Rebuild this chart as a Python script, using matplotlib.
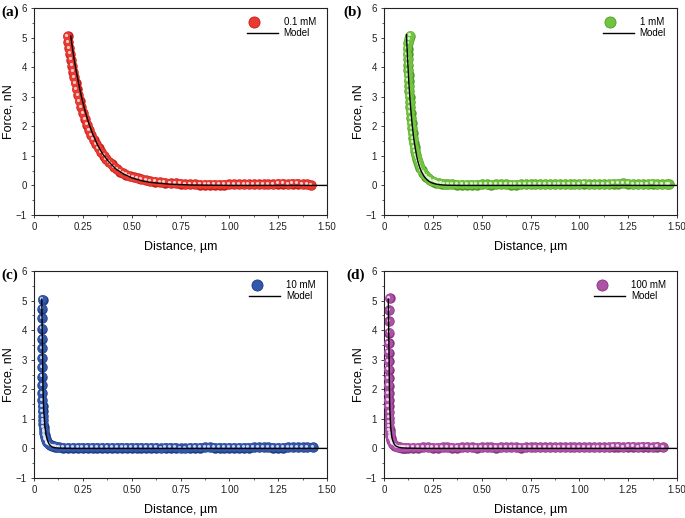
import matplotlib
matplotlib.use("Agg")
import matplotlib.pyplot as plt
from matplotlib.lines import Line2D
from matplotlib.legend_handler import HandlerTuple
from matplotlib.transforms import offset_copy
from matplotlib.ticker import MultipleLocator, FixedLocator

plt.rcParams['font.family'] = ['Liberation Sans', 'DejaVu Sans']

# ---- data (distance in um, force in nN) ----
labels = ['0.1 mM', '1 mM', '10 mM', '100 mM']
panel_tags = ['(a)', '(b)', '(c)', '(d)']
colors = ['#ea3a31', '#72c440', '#3358ab', '#ad52a6']
darks = ['#c41d16', '#4f9a24', '#1f3b85', '#86357f']

# (a) 0.1 mM
a_curve = [(0.173, 5.05), (0.176, 4.85), (0.181, 4.65), (0.186, 4.45), (0.191, 4.25),
           (0.196, 4.05), (0.201, 3.85), (0.207, 3.65), (0.213, 3.45), (0.219, 3.25),
           (0.226, 3.05), (0.234, 2.85), (0.242, 2.65), (0.251, 2.45), (0.261, 2.25),
           (0.272, 2.05), (0.283, 1.87), (0.294, 1.70), (0.306, 1.54), (0.318, 1.39),
           (0.331, 1.25), (0.344, 1.12), (0.358, 1.00), (0.371, 0.89), (0.384, 0.79),
           (0.397, 0.71), (0.410, 0.62), (0.425, 0.54), (0.440, 0.47), (0.456, 0.41),
           (0.473, 0.36), (0.490, 0.32), (0.510, 0.28), (0.530, 0.24), (0.550, 0.21),
           (0.573, 0.18), (0.596, 0.15), (0.620, 0.13), (0.645, 0.11), (0.670, 0.09),
           (0.700, 0.08), (0.725, 0.07)]
a_flat_x = [0.75, 0.775, 0.80, 0.825, 0.85, 0.875, 0.90, 0.925, 0.95, 0.975,
            1.00, 1.025, 1.05, 1.075, 1.10, 1.125, 1.15, 1.175, 1.20, 1.225,
            1.25, 1.275, 1.30, 1.325, 1.35, 1.375, 1.40, 1.42]
a_flat_f = [0.06, 0.05, 0.04, 0.04, 0.03, 0.03, 0.02, 0.02, 0.03, 0.03,
            0.04, 0.04, 0.05, 0.04, 0.04, 0.05, 0.04, 0.04, 0.05, 0.05,
            0.06, 0.06, 0.05, 0.06, 0.06, 0.05, 0.05, 0.01]
a_model = [(0.188, 5.05), (0.195, 4.72), (0.205, 4.28), (0.215, 3.90), (0.230, 3.39),
           (0.245, 2.94), (0.260, 2.55), (0.280, 2.11), (0.300, 1.75), (0.325, 1.37),
           (0.350, 1.08), (0.380, 0.82), (0.420, 0.55), (0.460, 0.38), (0.500, 0.26),
           (0.550, 0.16), (0.600, 0.10), (0.700, 0.04), (0.800, 0.015), (1.000, 0.0),
           (1.500, 0.0)]

# (b) 1 mM
b_curve = [(0.135, 5.07), (0.128, 4.95), (0.124, 4.80), (0.122, 4.62), (0.122, 4.44),
           (0.123, 4.26), (0.124, 4.08), (0.125, 3.90), (0.126, 3.72), (0.127, 3.54),
           (0.128, 3.36), (0.129, 3.18), (0.131, 3.00), (0.133, 2.82), (0.135, 2.64),
           (0.137, 2.46), (0.139, 2.28), (0.141, 2.10), (0.144, 1.93), (0.147, 1.76),
           (0.150, 1.60), (0.153, 1.45), (0.157, 1.30), (0.161, 1.16), (0.165, 1.03),
           (0.170, 0.91), (0.175, 0.80), (0.180, 0.70), (0.186, 0.60), (0.193, 0.51),
           (0.200, 0.43), (0.208, 0.36), (0.216, 0.30), (0.225, 0.24), (0.235, 0.19),
           (0.245, 0.15), (0.256, 0.12), (0.268, 0.09), (0.280, 0.07), (0.295, 0.06),
           (0.310, 0.05), (0.330, 0.04)]
b_flat_x = [0.35, 0.375, 0.40, 0.425, 0.45, 0.475, 0.50, 0.525, 0.55, 0.575,
            0.60, 0.625, 0.65, 0.675, 0.70, 0.725, 0.75, 0.775, 0.80, 0.825,
            0.85, 0.875, 0.90, 0.925, 0.95, 0.975, 1.00, 1.025, 1.05, 1.075,
            1.10, 1.125, 1.15, 1.175, 1.20, 1.225, 1.25, 1.275, 1.30, 1.325,
            1.35, 1.375, 1.40, 1.425, 1.45, 1.46]
b_flat_f = [0.04, 0.03, 0.02, 0.02, 0.03, 0.03, 0.04, 0.04, 0.03, 0.04,
            0.05, 0.04, 0.03, 0.03, 0.04, 0.04, 0.05, 0.05, 0.04, 0.04,
            0.04, 0.05, 0.05, 0.04, 0.04, 0.05, 0.05, 0.06, 0.05, 0.05,
            0.04, 0.04, 0.05, 0.06, 0.06, 0.07, 0.06, 0.05, 0.05, 0.04,
            0.05, 0.06, 0.05, 0.05, 0.05, 0.04]
b_model = [(0.115, 5.10), (0.119, 4.50), (0.123, 4.00), (0.127, 3.50), (0.132, 3.00),
           (0.138, 2.50), (0.145, 2.00), (0.152, 1.60), (0.159, 1.30), (0.167, 1.00),
           (0.174, 0.80), (0.183, 0.60), (0.193, 0.45), (0.203, 0.33), (0.213, 0.24),
           (0.224, 0.17), (0.235, 0.12), (0.248, 0.08), (0.263, 0.05), (0.279, 0.03),
           (0.300, 0.015), (0.330, 0.005), (0.400, 0.0), (1.500, 0.0)]

# (c) 10 mM
c_curve = [(0.044, 5.03), (0.043, 4.72), (0.042, 4.40), (0.042, 4.05), (0.041, 3.71),
           (0.041, 3.39), (0.041, 3.06), (0.041, 2.75), (0.041, 2.43), (0.042, 2.14),
           (0.042, 1.87), (0.043, 1.63), (0.044, 1.43), (0.045, 1.25), (0.046, 1.09),
           (0.047, 0.95), (0.048, 0.83), (0.050, 0.72), (0.051, 0.62), (0.053, 0.53),
           (0.055, 0.45), (0.057, 0.38), (0.060, 0.32), (0.063, 0.27), (0.066, 0.22),
           (0.070, 0.18), (0.075, 0.15), (0.080, 0.12), (0.086, 0.10), (0.093, 0.08),
           (0.100, 0.07), (0.110, 0.06), (0.120, 0.05), (0.130, 0.04)]
c_flat_x = [0.15, 0.175, 0.20, 0.225, 0.25, 0.275, 0.30, 0.325, 0.35, 0.375,
            0.40, 0.425, 0.45, 0.475, 0.50, 0.525, 0.55, 0.575, 0.60, 0.625,
            0.65, 0.675, 0.70, 0.725, 0.75, 0.775, 0.80, 0.825, 0.85, 0.875,
            0.90, 0.925, 0.95, 0.975, 1.00, 1.025, 1.05, 1.075, 1.10, 1.125,
            1.15, 1.175, 1.20, 1.225, 1.25, 1.275, 1.30, 1.325, 1.35, 1.375,
            1.40, 1.43]
c_flat_f = [0.03, 0.03, 0.02, 0.03, 0.02, 0.02, 0.03, 0.03, 0.02, 0.02,
            0.03, 0.03, 0.02, 0.02, 0.03, 0.03, 0.03, 0.02, 0.02, 0.02,
            0.01, 0.02, 0.02, 0.02, 0.01, 0.01, 0.02, 0.02, 0.03, 0.04,
            0.04, 0.03, 0.03, 0.02, 0.02, 0.02, 0.03, 0.03, 0.03, 0.04,
            0.04, 0.05, 0.04, 0.03, 0.03, 0.03, 0.04, 0.04, 0.05, 0.05,
            0.05, 0.04]
c_model = [(0.040, 5.05), (0.041, 4.50), (0.042, 4.00), (0.043, 3.50), (0.044, 3.00),
           (0.045, 2.50), (0.046, 2.00), (0.048, 1.60), (0.050, 1.30), (0.053, 1.00),
           (0.056, 0.75), (0.060, 0.55), (0.064, 0.40), (0.069, 0.27), (0.075, 0.17),
           (0.083, 0.10), (0.093, 0.05), (0.105, 0.025), (0.130, 0.01), (0.200, 0.0),
           (1.500, 0.0)]

# (d) 100 mM
d_curve = [(0.030, 5.08), (0.028, 4.68), (0.027, 4.30), (0.026, 3.92), (0.025, 3.56),
           (0.025, 3.24), (0.025, 2.94), (0.025, 2.66), (0.025, 2.38), (0.025, 2.12),
           (0.025, 1.87), (0.025, 1.64), (0.025, 1.42), (0.026, 1.22), (0.026, 1.04),
           (0.027, 0.88), (0.028, 0.74), (0.029, 0.62), (0.031, 0.51), (0.033, 0.42),
           (0.035, 0.34), (0.038, 0.27), (0.041, 0.21), (0.045, 0.16), (0.050, 0.12),
           (0.056, 0.09), (0.063, 0.07), (0.070, 0.05), (0.080, 0.04), (0.090, 0.03),
           (0.100, 0.03), (0.110, 0.03)]
d_flat_x = [0.125, 0.15, 0.175, 0.20, 0.225, 0.25, 0.275, 0.30, 0.325, 0.35,
            0.375, 0.40, 0.425, 0.45, 0.475, 0.50, 0.525, 0.55, 0.575, 0.60,
            0.625, 0.65, 0.675, 0.70, 0.725, 0.75, 0.775, 0.80, 0.825, 0.85,
            0.875, 0.90, 0.925, 0.95, 0.975, 1.00, 1.025, 1.05, 1.075, 1.10,
            1.125, 1.15, 1.175, 1.20, 1.225, 1.25, 1.275, 1.30, 1.325, 1.35,
            1.375, 1.40, 1.43]
d_flat_f = [0.02, 0.02, 0.03, 0.04, 0.04, 0.03, 0.03, 0.04, 0.04, 0.03,
            0.03, 0.04, 0.04, 0.04, 0.03, 0.04, 0.05, 0.04, 0.03, 0.04,
            0.04, 0.04, 0.04, 0.03, 0.04, 0.04, 0.04, 0.04, 0.05, 0.04,
            0.04, 0.04, 0.05, 0.05, 0.04, 0.04, 0.05, 0.05, 0.05, 0.04,
            0.05, 0.05, 0.06, 0.06, 0.05, 0.06, 0.06, 0.05, 0.06, 0.06,
            0.05, 0.06, 0.04]
d_model = [(0.022, 5.05), (0.023, 4.50), (0.024, 4.00), (0.025, 3.50), (0.026, 3.00),
           (0.027, 2.50), (0.028, 2.00), (0.029, 1.60), (0.030, 1.30), (0.032, 1.00),
           (0.034, 0.75), (0.037, 0.55), (0.040, 0.40), (0.044, 0.28), (0.049, 0.19),
           (0.055, 0.12), (0.063, 0.07), (0.075, 0.04), (0.090, 0.02), (0.120, 0.01),
           (0.200, 0.0), (1.500, 0.0)]

curves = [a_curve, b_curve, c_curve, d_curve]
flats_x = [a_flat_x, b_flat_x, c_flat_x, d_flat_x]
flats_f = [a_flat_f, b_flat_f, c_flat_f, d_flat_f]
models = [a_model, b_model, c_model, d_model]

xticks = [0, 0.25, 0.5, 0.75, 1.0, 1.25, 1.5]
xtick_labels = ['0', '0.25', '0.50', '0.75', '1.00', '1.25', '1.50']
yticks = [-1, 0, 1, 2, 3, 4, 5, 6]
ytick_labels = ['\u22121', '0', '1', '2', '3', '4', '5', '6']

# ---- layout (pixel boxes of the reference) ----
W, H = 685, 518
fig = plt.figure(figsize=(W / 100, H / 100), dpi=100)
boxes = [(34, 8, 327, 215), (384, 8, 677, 215), (34, 271, 327, 478), (384, 271, 677, 478)]
tag_pos = [(1, 12), (343, 12), (1, 275), (346, 275)]

ms = 7.5
for i in range(4):
    x0, y0, x1, y1 = boxes[i]
    ax = fig.add_axes([x0 / W, 1 - y1 / H, (x1 - x0) / W, (y1 - y0) / H])
    xs = [p[0] for p in curves[i]] + flats_x[i]
    fs = [p[1] for p in curves[i]] + flats_f[i]
    col, dk = colors[i], darks[i]

    # glossy spheres: darker rim, body shifted up-left, white highlight
    ax.plot(xs, fs, 'o', ms=ms, mfc=dk, mec='none', ls='none', zorder=2)
    tr1 = offset_copy(ax.transData, fig=fig, x=-0.3, y=0.3, units='points')
    ax.plot(xs, fs, 'o', ms=ms * 0.86, mfc=col, mec='none', ls='none', transform=tr1, zorder=3)
    tr2 = offset_copy(ax.transData, fig=fig, x=-1.0, y=1.0, units='points')
    ax.plot(xs, fs, 'o', ms=ms * 0.3, mfc='white', mec='none', ls='none', alpha=0.75,
            transform=tr2, zorder=4)

    mx = [p[0] for p in models[i]]
    mf = [p[1] for p in models[i]]
    ax.plot(mx, mf, color='black', lw=1.0, zorder=5)

    ax.set_xlim(0, 1.5)
    ax.set_ylim(-1, 6)
    ax.xaxis.set_major_locator(FixedLocator(xticks))
    ax.set_xticklabels(xtick_labels)
    ax.yaxis.set_major_locator(FixedLocator(yticks))
    ax.set_yticklabels(ytick_labels)
    ax.xaxis.set_minor_locator(MultipleLocator(0.125))
    ax.yaxis.set_minor_locator(MultipleLocator(0.5))
    ax.tick_params(which='major', direction='out', length=2.2, width=0.6,
                   labelsize=7, colors='#222222')
    ax.tick_params(axis='y', which='major', pad=3.0)
    ax.tick_params(axis='x', which='major', pad=3.0)
    ax.tick_params(which='minor', direction='out', length=1.2, width=0.5, colors='#222222')
    for sp in ax.spines.values():
        sp.set_linewidth(0.8)
        sp.set_color('#222222')

    ax.set_xlabel('Distance, \u00b5m', fontsize=9, labelpad=6)
    ax.set_ylabel('Force, nN', fontsize=9, labelpad=1)

    h_sph = (Line2D([], [], marker='o', ms=8, mfc=col, mec=dk, mew=0.6, ls='none'),
             Line2D([], [], marker='o', ms=2.2, mfc='white', mec='none', ls='none', alpha=0.8))
    h_mod = Line2D([], [], color='black', lw=1.0)
    ax.legend([h_sph, h_mod], [labels[i], 'Model'], loc='upper right',
              bbox_to_anchor=(0.962, 0.955), frameon=False, fontsize=7,
              handlelength=3.2, handletextpad=0.6, labelspacing=0.1,
              borderpad=0, borderaxespad=0,
              handler_map={tuple: HandlerTuple(ndivide=None)})

    tx, ty = tag_pos[i]
    fig.text(tx / W, 1 - ty / H, panel_tags[i], fontsize=11, fontweight='bold',
             family='Liberation Serif', ha='left', va='center')

fig.savefig('out.png', dpi=100)
